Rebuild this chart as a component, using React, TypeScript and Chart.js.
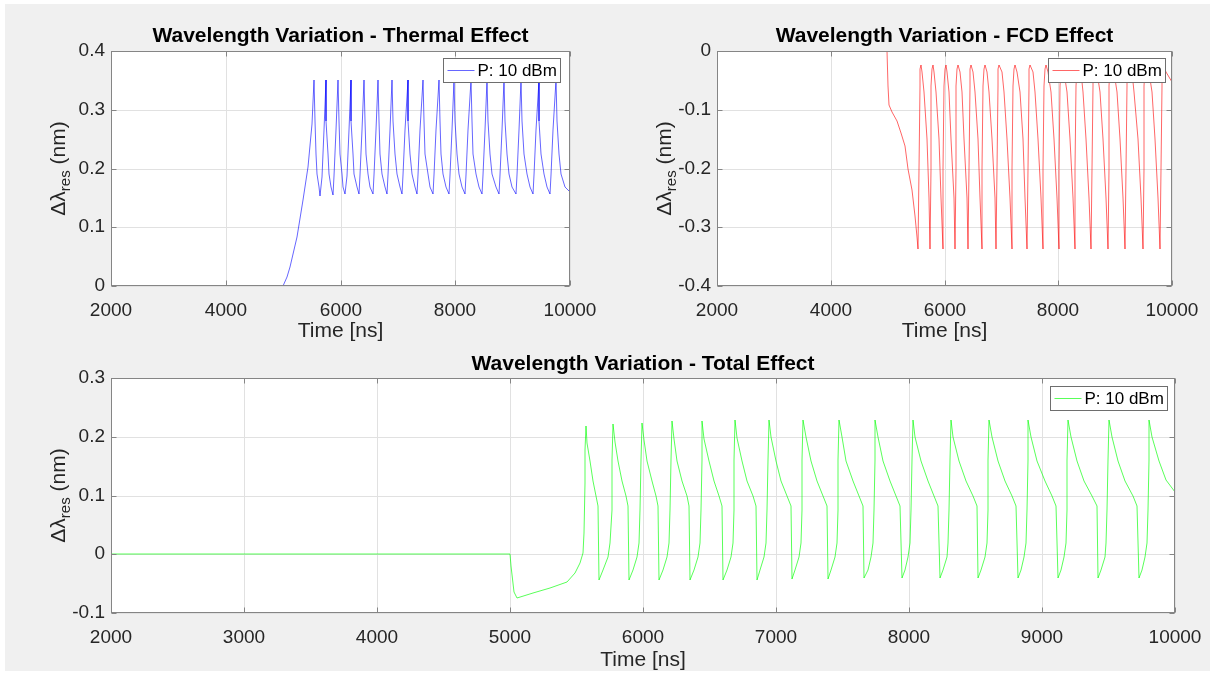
import React, { useEffect, useRef } from "react";
import { Chart, registerables } from "chart.js";

Chart.register(...registerables);

const FONT_FAMILY = '"Liberation Sans", Arial, Helvetica, sans-serif';
const TEXT_COLOR = "#262626";

const legendLabel = "P: 10 dBm";
const xAxisTitle = "Time [ns]";
const yAxisMain = "Δλ";
const yAxisSub = "res";
const yAxisUnit = " (nm)";

const thermalTitle = "Wavelength Variation - Thermal Effect";
const fcdTitle = "Wavelength Variation - FCD Effect";
const totalTitle = "Wavelength Variation - Total Effect";

const topXTicks = [2000, 4000, 6000, 8000, 10000];
const topXTickLabels = ["2000", "4000", "6000", "8000", "10000"];
const bottomXTicks = [2000, 3000, 4000, 5000, 6000, 7000, 8000, 9000, 10000];
const bottomXTickLabels = ["2000", "3000", "4000", "5000", "6000", "7000", "8000", "9000", "10000"];

const thermalYTicks = [0, 0.1, 0.2, 0.3, 0.4];
const thermalYTickLabels = ["0", "0.1", "0.2", "0.3", "0.4"];
const fcdYTicks = [-0.4, -0.3, -0.2, -0.1, 0];
const fcdYTickLabels = ["-0.4", "-0.3", "-0.2", "-0.1", "0"];
const totalYTicks = [-0.1, 0, 0.1, 0.2, 0.3];
const totalYTickLabels = ["-0.1", "0", "0.1", "0.2", "0.3"];

// [time ns, shift nm]
const thermalPoints: [number, number][] = [
  [2000, 0], [5000, 0], [5060, 0.015], [5120, 0.033], [5236, 0.084], [5352, 0.146], [5439, 0.203], [5497, 0.276], [5544, 0.35],
  [5552, 0.28], [5569, 0.225], [5593, 0.19], [5621, 0.169], [5650, 0.153], [5670, 0.185], [5705, 0.266], [5745, 0.35],
  [5755, 0.28], [5774, 0.225], [5801, 0.19], [5834, 0.169], [5867, 0.155], [5887, 0.187], [5922, 0.266], [5962, 0.35],
  [5972, 0.28], [5992, 0.225], [6019, 0.19], [6052, 0.169], [6085, 0.156], [6105, 0.188], [6140, 0.266], [6180, 0.35],
  [6191, 0.28], [6214, 0.225], [6244, 0.19], [6282, 0.169], [6320, 0.157], [6340, 0.189], [6375, 0.266], [6415, 0.35],
  [6427, 0.28], [6450, 0.225], [6483, 0.19], [6522, 0.169], [6562, 0.157], [6582, 0.189], [6617, 0.266], [6657, 0.35],
  [6669, 0.28], [6694, 0.225], [6727, 0.19], [6769, 0.169], [6810, 0.157], [6830, 0.189], [6865, 0.266], [6905, 0.35],
  [6919, 0.28], [6946, 0.225], [6984, 0.19], [7030, 0.169], [7076, 0.157], [7096, 0.189], [7131, 0.266], [7171, 0.35],
  [7184, 0.28], [7211, 0.225], [7248, 0.19], [7293, 0.169], [7338, 0.157], [7358, 0.189], [7393, 0.266], [7433, 0.35],
  [7448, 0.28], [7477, 0.225], [7518, 0.19], [7567, 0.169], [7617, 0.157], [7637, 0.189], [7672, 0.266], [7712, 0.35],
  [7726, 0.28], [7754, 0.225], [7793, 0.19], [7841, 0.169], [7889, 0.157], [7909, 0.189], [7944, 0.266], [7984, 0.35],
  [7999, 0.28], [8030, 0.225], [8072, 0.19], [8123, 0.169], [8175, 0.157], [8195, 0.189], [8230, 0.266], [8270, 0.35],
  [8285, 0.28], [8317, 0.225], [8359, 0.19], [8412, 0.169], [8464, 0.157], [8484, 0.189], [8519, 0.266], [8559, 0.35],
  [8575, 0.28], [8606, 0.225], [8649, 0.19], [8702, 0.169], [8755, 0.157], [8775, 0.189], [8810, 0.266], [8850, 0.35],
  [8866, 0.28], [8898, 0.225], [8942, 0.19], [8997, 0.169], [9051, 0.157], [9071, 0.189], [9106, 0.266], [9146, 0.35],
  [9163, 0.28], [9197, 0.225], [9243, 0.19], [9300, 0.169], [9357, 0.157], [9377, 0.189], [9412, 0.266], [9452, 0.35],
  [9468, 0.28], [9501, 0.225], [9546, 0.19], [9602, 0.169], [9657, 0.157], [9677, 0.189], [9712, 0.266], [9752, 0.35],
  [9769, 0.28], [9804, 0.225], [9851, 0.19], [9909, 0.169], [10000, 0.16],
];

const fcdPoints: [number, number][] = [
  [2000, 0], [4995, 0], [5010, -0.06], [5024, -0.092], [5071, -0.103], [5159, -0.12], [5240, -0.14], [5300, -0.162],
  [5363, -0.2], [5422, -0.237], [5481, -0.28], [5516, -0.316], [5540, -0.337],
  [5550, -0.2], [5562, -0.06], [5575, -0.03], [5590, -0.024], [5612, -0.035], [5643, -0.07], [5684, -0.15], [5721, -0.25], [5746, -0.337],
  [5756, -0.2], [5768, -0.06], [5781, -0.03], [5796, -0.024], [5824, -0.035], [5858, -0.07], [5902, -0.15], [5942, -0.25], [5969, -0.337],
  [5979, -0.2], [5991, -0.06], [6004, -0.03], [6019, -0.024], [6045, -0.035], [6078, -0.07], [6122, -0.15], [6161, -0.25], [6187, -0.337],
  [6197, -0.2], [6209, -0.06], [6222, -0.03], [6237, -0.024], [6268, -0.035], [6303, -0.07], [6349, -0.15], [6391, -0.25], [6419, -0.337],
  [6429, -0.2], [6441, -0.06], [6454, -0.03], [6469, -0.024], [6502, -0.035], [6538, -0.07], [6586, -0.15], [6628, -0.25], [6657, -0.337],
  [6667, -0.2], [6679, -0.06], [6692, -0.03], [6707, -0.024], [6746, -0.035], [6784, -0.07], [6834, -0.15], [6880, -0.25], [6910, -0.337],
  [6920, -0.2], [6932, -0.06], [6945, -0.03], [6960, -0.024], [7005, -0.035], [7046, -0.07], [7100, -0.15], [7149, -0.25], [7182, -0.337],
  [7192, -0.2], [7204, -0.06], [7217, -0.03], [7232, -0.024], [7278, -0.035], [7319, -0.07], [7374, -0.15], [7423, -0.25], [7456, -0.337],
  [7466, -0.2], [7478, -0.06], [7491, -0.03], [7506, -0.024], [7551, -0.035], [7592, -0.07], [7646, -0.15], [7694, -0.25], [7727, -0.337],
  [7737, -0.2], [7749, -0.06], [7762, -0.03], [7777, -0.024], [7825, -0.035], [7868, -0.07], [7924, -0.15], [7974, -0.25], [8008, -0.337],
  [8018, -0.2], [8030, -0.06], [8043, -0.03], [8058, -0.024], [8107, -0.035], [8149, -0.07], [8205, -0.15], [8256, -0.25], [8290, -0.337],
  [8300, -0.2], [8312, -0.06], [8325, -0.03], [8340, -0.024], [8392, -0.035], [8436, -0.07], [8494, -0.15], [8547, -0.25], [8582, -0.337],
  [8592, -0.2], [8604, -0.06], [8617, -0.03], [8632, -0.024], [8685, -0.035], [8730, -0.07], [8789, -0.15], [8842, -0.25], [8877, -0.337],
  [8887, -0.2], [8899, -0.06], [8912, -0.03], [8927, -0.024], [8984, -0.035], [9030, -0.07], [9091, -0.15], [9145, -0.25], [9182, -0.337],
  [9192, -0.2], [9204, -0.06], [9217, -0.03], [9232, -0.024], [9290, -0.035], [9336, -0.07], [9398, -0.15], [9453, -0.25], [9490, -0.337],
  [9500, -0.2], [9512, -0.06], [9525, -0.03], [9540, -0.024], [9597, -0.035], [9643, -0.07], [9704, -0.15], [9758, -0.25], [9795, -0.337],
  [9805, -0.2], [9817, -0.06], [9830, -0.03], [9845, -0.024], [9903, -0.035], [10000, -0.052],
];

const totalPoints: [number, number][] = [
  [2000, 0], [5000, 0], [5005, -0.02], [5030, -0.065], [5050, -0.075], [5175, -0.0665], [5301, -0.058], [5426, -0.048],
  [5489, -0.0325], [5526, -0.0155], [5546, 0.002], [5556, 0.036], [5561, 0.121], [5566, 0.177], [5571, 0.219],
  [5581, 0.189], [5600, 0.158], [5625, 0.125], [5649, 0.1], [5664, 0.082], [5669, -0.043], [5701, -0.027], [5736, -0.004], [5753, 0.019], [5764, 0.075], [5769, 0.16], [5777, 0.221],
  [5789, 0.191], [5812, 0.158], [5840, 0.125], [5869, 0.1], [5886, 0.082], [5892, -0.043], [5922, -0.027], [5954, -0.004], [5970, 0.019], [5980, 0.075], [5985, 0.16], [5992, 0.224],
  [6005, 0.194], [6031, 0.158], [6064, 0.125], [6097, 0.1], [6116, 0.082], [6123, -0.043], [6151, -0.027], [6181, -0.004], [6196, 0.019], [6205, 0.075], [6209, 0.16], [6216, 0.226],
  [6230, 0.196], [6258, 0.158], [6293, 0.125], [6328, 0.1], [6349, 0.082], [6356, -0.043], [6383, -0.027], [6412, -0.004], [6426, 0.019], [6435, 0.075], [6440, 0.16], [6446, 0.227],
  [6462, 0.197], [6493, 0.158], [6533, 0.125], [6572, 0.1], [6596, 0.082], [6604, -0.043], [6630, -0.027], [6659, -0.004], [6673, 0.019], [6681, 0.075], [6686, 0.16], [6692, 0.228],
  [6709, 0.198], [6742, 0.158], [6783, 0.125], [6824, 0.1], [6849, 0.082], [6857, -0.043], [6883, -0.027], [6912, -0.004], [6926, 0.019], [6934, 0.075], [6939, 0.16], [6945, 0.229],
  [6963, 0.199], [6998, 0.158], [7041, 0.125], [7085, 0.1], [7111, 0.082], [7120, -0.042], [7145, -0.027], [7171, -0.004], [7185, 0.019], [7193, 0.075], [7197, 0.16], [7203, 0.229],
  [7222, 0.199], [7260, 0.158], [7308, 0.125], [7355, 0.1], [7384, 0.082], [7393, -0.042], [7417, -0.027], [7443, -0.004], [7456, 0.019], [7464, 0.075], [7468, 0.16], [7474, 0.229],
  [7493, 0.199], [7530, 0.158], [7577, 0.125], [7624, 0.1], [7653, 0.082], [7662, -0.041], [7688, -0.027], [7715, -0.004], [7728, 0.019], [7737, 0.075], [7741, 0.16], [7747, 0.229],
  [7767, 0.199], [7806, 0.158], [7856, 0.125], [7905, 0.1], [7935, 0.082], [7945, -0.041], [7970, -0.027], [7996, -0.004], [8010, 0.019], [8018, 0.075], [8022, 0.16], [8028, 0.229],
  [8048, 0.199], [8089, 0.158], [8140, 0.125], [8190, 0.1], [8221, 0.082], [8231, -0.041], [8256, -0.027], [8282, -0.004], [8295, 0.019], [8303, 0.075], [8307, 0.16], [8313, 0.229],
  [8334, 0.199], [8375, 0.158], [8426, 0.125], [8478, 0.1], [8509, 0.082], [8519, -0.041], [8544, -0.027], [8570, -0.004], [8584, 0.019], [8592, 0.075], [8596, 0.16], [8602, 0.229],
  [8624, 0.199], [8667, 0.158], [8720, 0.125], [8774, 0.1], [8806, 0.082], [8817, -0.041], [8841, -0.027], [8867, -0.004], [8879, 0.019], [8887, 0.075], [8891, 0.16], [8897, 0.229],
  [8919, 0.199], [8963, 0.158], [9019, 0.125], [9074, 0.1], [9107, 0.082], [9118, -0.041], [9141, -0.027], [9166, -0.004], [9178, 0.019], [9186, 0.075], [9190, 0.16], [9195, 0.229],
  [9218, 0.199], [9263, 0.158], [9319, 0.125], [9376, 0.1], [9410, 0.082], [9421, -0.041], [9445, -0.027], [9471, -0.004], [9483, 0.019], [9491, 0.075], [9495, 0.16], [9501, 0.229],
  [9524, 0.199], [9569, 0.158], [9626, 0.125], [9683, 0.1], [9718, 0.082], [9729, -0.041], [9752, -0.027], [9777, -0.004], [9790, 0.019], [9798, 0.075], [9802, 0.16], [9807, 0.229],
  [9830, 0.199], [9876, 0.158], [9935, 0.127], [10000, 0.106],
];

type PanelCfg = {
  title: string;
  points: [number, number][];
  color: string;
  xTicks: number[];
  xTickLabels: string[];
  yTicks: number[];
  yTickLabels: string[];
  yMin: number;
  yMax: number;
  padTop: number;
  padRight: number;
  yAxisWidth: number;
  xAxisHeight: number;
  xTitlePadBottom: number;
  titleY: number;
  yLabelCenterX: number;
  legendGapRight: number;
  legendGapTop: number;
};

function framePlugin(cfg: PanelCfg) {
  return {
    id: "matlabFrame",
    beforeDraw(chart: any) {
      const { ctx, chartArea: a } = chart;
      ctx.save();
      ctx.fillStyle = "#ffffff";
      ctx.fillRect(a.left, a.top, a.right - a.left, a.bottom - a.top);
      ctx.restore();
    },
    afterDatasetsDraw(chart: any) {
      const { ctx, chartArea: a, scales } = chart;
      ctx.save();
      ctx.strokeStyle = "#858585";
      ctx.lineWidth = 1;
      const L = Math.round(a.left) + 0.5;
      const R = Math.round(a.right) - 0.5;
      const T = Math.round(a.top) + 0.5;
      const B = Math.round(a.bottom) - 0.5;
      ctx.strokeRect(L, T, R - L, B - T);
      ctx.beginPath();
      for (const v of cfg.xTicks) {
        const px = Math.round(scales.x.getPixelForValue(v)) + 0.5;
        ctx.moveTo(px, B);
        ctx.lineTo(px, B - 5);
        ctx.moveTo(px, T);
        ctx.lineTo(px, T + 5);
      }
      for (const v of cfg.yTicks) {
        const py = Math.round(scales.y.getPixelForValue(v)) + 0.5;
        ctx.moveTo(L, py);
        ctx.lineTo(L + 5, py);
        ctx.moveTo(R, py);
        ctx.lineTo(R - 5, py);
      }
      ctx.stroke();

      // legend box
      const w = 117;
      const h = 24;
      const lx = Math.round(a.right - cfg.legendGapRight - w) + 0.5;
      const ly = Math.round(a.top + cfg.legendGapTop) + 0.5;
      ctx.fillStyle = "#ffffff";
      ctx.fillRect(lx, ly, w, h);
      ctx.strokeStyle = "#6e6e6e";
      ctx.strokeRect(lx, ly, w, h);
      ctx.strokeStyle = cfg.color;
      ctx.beginPath();
      ctx.moveTo(lx + 4, ly + h / 2);
      ctx.lineTo(lx + 31, ly + h / 2);
      ctx.stroke();
      ctx.fillStyle = "#000000";
      ctx.font = `17px ${FONT_FAMILY}`;
      ctx.textBaseline = "middle";
      ctx.textAlign = "left";
      ctx.fillText(chart.data.datasets[0].label, lx + 34, ly + h / 2 + 1);
      ctx.restore();
    },
    afterDraw(chart: any) {
      const { ctx, chartArea: a } = chart;
      ctx.save();
      ctx.fillStyle = "#000000";
      ctx.font = `bold 21px ${FONT_FAMILY}`;
      ctx.textAlign = "center";
      ctx.textBaseline = "middle";
      ctx.fillText(cfg.title, (a.left + a.right) / 2, cfg.titleY);

      const mainFont = `21px ${FONT_FAMILY}`;
      const subFont = `15px ${FONT_FAMILY}`;
      ctx.font = mainFont;
      const w1 = ctx.measureText(yAxisMain).width;
      const w3 = ctx.measureText(yAxisUnit).width;
      ctx.font = subFont;
      const w2 = ctx.measureText(yAxisSub).width;
      const total = w1 + w2 + w3;
      ctx.translate(cfg.yLabelCenterX + 7.5, (a.top + a.bottom) / 2);
      ctx.rotate(-Math.PI / 2);
      ctx.fillStyle = TEXT_COLOR;
      ctx.textAlign = "left";
      ctx.textBaseline = "alphabetic";
      let x = -total / 2;
      ctx.font = mainFont;
      ctx.fillText(yAxisMain, x, 0);
      x += w1;
      ctx.font = subFont;
      ctx.fillText(yAxisSub, x, 5);
      x += w2;
      ctx.font = mainFont;
      ctx.fillText(yAxisUnit, x, 0);
      ctx.restore();
    },
  };
}

function makeChart(canvas: HTMLCanvasElement, cfg: PanelCfg) {
  const data = cfg.points.map(([t, v]) => ({ x: t, y: v }));
  return new Chart(canvas, {
    type: "line",
    data: {
      datasets: [
        {
          label: legendLabel,
          data,
          borderColor: cfg.color,
          borderWidth: 1,
          pointRadius: 0,
          fill: false,
          tension: 0,
        },
      ],
    },
    options: {
      animation: false,
      responsive: false,
      maintainAspectRatio: false,
      devicePixelRatio: 1,
      events: [],
      layout: {
        autoPadding: false,
        padding: { left: 0, top: cfg.padTop, right: cfg.padRight, bottom: 0 },
      },
      plugins: {
        legend: { display: false },
        title: { display: false },
        tooltip: { enabled: false },
      },
      scales: {
        x: {
          type: "linear",
          min: cfg.xTicks[0],
          max: cfg.xTicks[cfg.xTicks.length - 1],
          alignToPixels: true,
          afterBuildTicks: (s: any) => {
            s.ticks = cfg.xTicks.map((v) => ({ value: v }));
          },
          afterFit: (s: any) => {
            s.height = cfg.xAxisHeight;
            s.paddingLeft = 0;
            s.paddingRight = 0;
            s.paddingTop = 0;
            s.paddingBottom = 0;
          },
          ticks: {
            autoSkip: false,
            maxRotation: 0,
            padding: 13.5,
            color: TEXT_COLOR,
            font: { family: FONT_FAMILY, size: 19 },
            callback: (_v: any, i: number) => cfg.xTickLabels[i],
          },
          grid: { color: "#e1e1e1", lineWidth: 1, drawTicks: false },
          border: { display: false },
          title: {
            display: true,
            text: xAxisTitle,
            color: TEXT_COLOR,
            font: { family: FONT_FAMILY, size: 21 },
            padding: { top: 0, bottom: cfg.xTitlePadBottom },
          },
        },
        y: {
          type: "linear",
          min: cfg.yMin,
          max: cfg.yMax,
          alignToPixels: true,
          afterBuildTicks: (s: any) => {
            s.ticks = cfg.yTicks.map((v) => ({ value: v }));
          },
          afterFit: (s: any) => {
            s.width = cfg.yAxisWidth;
            s.paddingLeft = 0;
            s.paddingRight = 0;
            s.paddingTop = 0;
            s.paddingBottom = 0;
          },
          ticks: {
            padding: 6,
            color: TEXT_COLOR,
            font: { family: FONT_FAMILY, size: 19 },
            callback: (_v: any, i: number) => cfg.yTickLabels[i],
          },
          grid: { color: "#e1e1e1", lineWidth: 1, drawTicks: false },
          border: { display: false },
        },
      },
    },
    plugins: [framePlugin(cfg) as any],
  } as any);
}

export default function App() {
  const thermalRef = useRef<HTMLCanvasElement>(null);
  const fcdRef = useRef<HTMLCanvasElement>(null);
  const totalRef = useRef<HTMLCanvasElement>(null);

  useEffect(() => {
    document.body.style.margin = "0";
    const charts = [
      makeChart(thermalRef.current!, {
        title: thermalTitle,
        points: thermalPoints,
        color: "rgba(0,0,255,0.6)",
        xTicks: topXTicks,
        xTickLabels: topXTickLabels,
        yTicks: thermalYTicks,
        yTickLabels: thermalYTickLabels,
        yMin: 0,
        yMax: 0.4,
        padTop: 43,
        padRight: 30,
        yAxisWidth: 101,
        xAxisHeight: 62,
        xTitlePadBottom: 4.4,
        titleY: 28,
        yLabelCenterX: 47,
        legendGapRight: 10,
        legendGapTop: 7,
      }),
      makeChart(fcdRef.current!, {
        title: fcdTitle,
        points: fcdPoints,
        color: "rgba(255,0,0,0.6)",
        xTicks: topXTicks,
        xTickLabels: topXTickLabels,
        yTicks: fcdYTicks,
        yTickLabels: fcdYTickLabels,
        yMin: -0.4,
        yMax: 0,
        padTop: 43,
        padRight: 33,
        yAxisWidth: 102,
        xAxisHeight: 62,
        xTitlePadBottom: 4.4,
        titleY: 28,
        yLabelCenterX: 48,
        legendGapRight: 7,
        legendGapTop: 7,
      }),
      makeChart(totalRef.current!, {
        title: totalTitle,
        points: totalPoints,
        color: "rgba(0,255,0,0.65)",
        xTicks: bottomXTicks,
        xTickLabels: bottomXTickLabels,
        yTicks: totalYTicks,
        yTickLabels: totalYTickLabels,
        yMin: -0.1,
        yMax: 0.3,
        padTop: 38,
        padRight: 30,
        yAxisWidth: 101,
        xAxisHeight: 60,
        xTitlePadBottom: 0,
        titleY: 24,
        yLabelCenterX: 47,
        legendGapRight: 8,
        legendGapTop: 8,
      }),
    ];
    return () => charts.forEach((c) => c.destroy());
  }, []);

  return (
    <div style={{ position: "absolute", left: 0, top: 0, width: 1215, height: 675, background: "#ffffff", overflow: "hidden" }}>
      <div style={{ position: "absolute", left: 5, top: 4, width: 1205, height: 667, background: "#f0f0f0" }} />
      <canvas ref={thermalRef} width={590} height={340} style={{ position: "absolute", left: 10, top: 8, width: 590, height: 340 }} />
      <canvas ref={fcdRef} width={590} height={340} style={{ position: "absolute", left: 615, top: 8, width: 590, height: 340 }} />
      <canvas ref={totalRef} width={1195} height={333} style={{ position: "absolute", left: 10, top: 340, width: 1195, height: 333 }} />
    </div>
  );
}
